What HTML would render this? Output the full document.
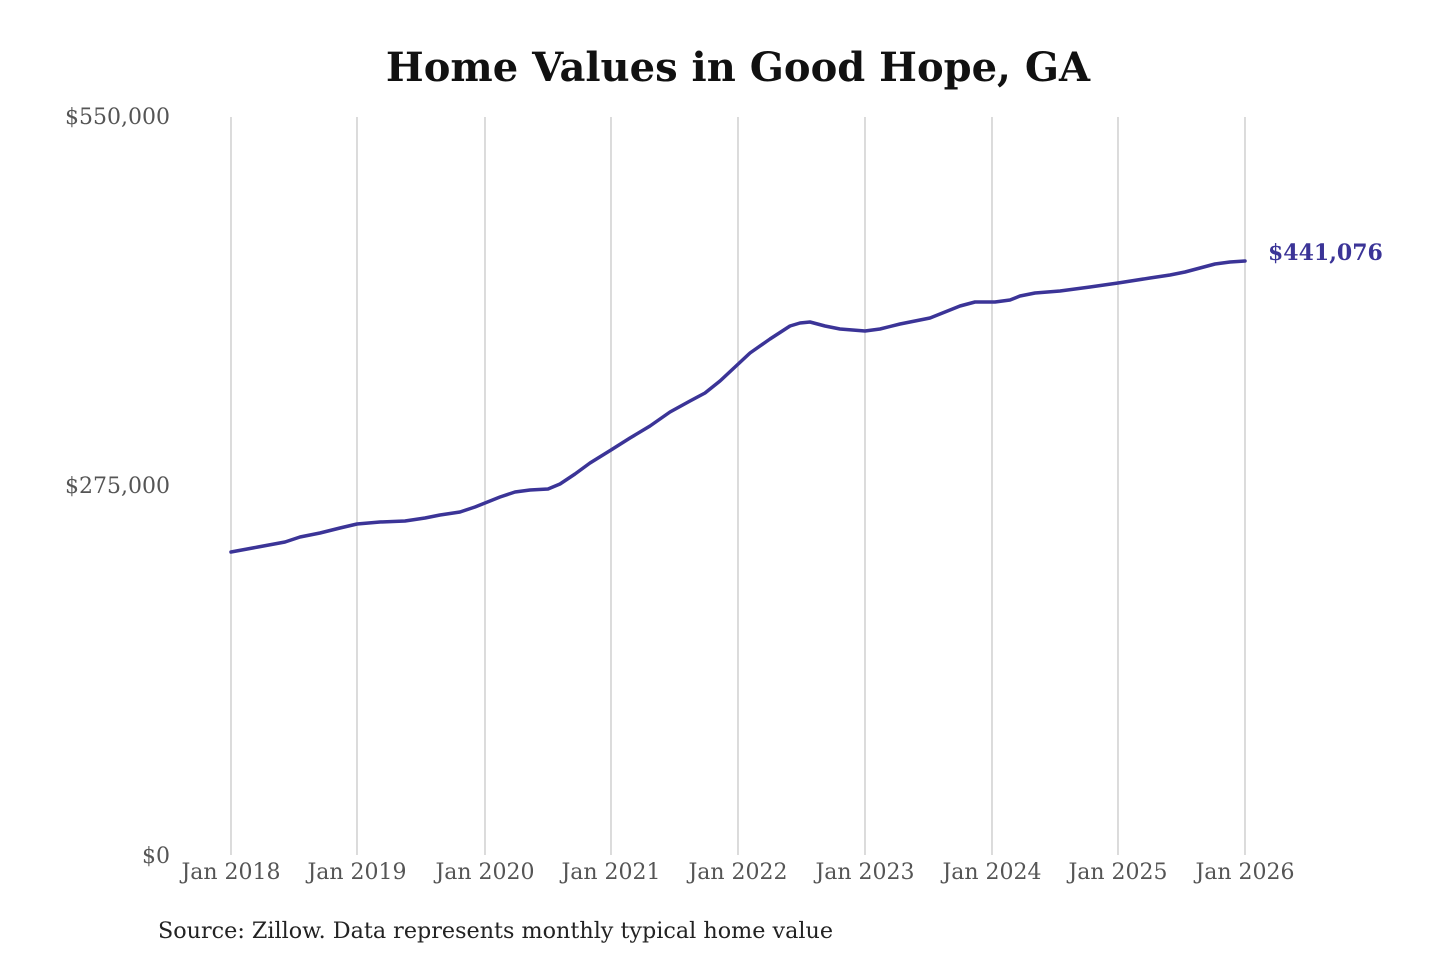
<!DOCTYPE html>
<html><head><meta charset="utf-8"><style>
html,body{margin:0;padding:0;background:#fff;}
svg{display:block;}
</style></head><body>
<svg width="1440" height="960" xmlns="http://www.w3.org/2000/svg" font-family="'DejaVu Serif','Liberation Serif',serif">
<rect width="1440" height="960" fill="#fff"/>
<text x="738" y="81" text-anchor="middle" font-size="40" font-weight="bold" fill="#111">Home Values in Good Hope, GA</text>
<g stroke="#c8c8c8" stroke-width="1.3">
<line x1="231" y1="117" x2="231" y2="855"/><line x1="357" y1="117" x2="357" y2="855"/>
<line x1="485" y1="117" x2="485" y2="855"/><line x1="611" y1="117" x2="611" y2="855"/>
<line x1="738" y1="117" x2="738" y2="855"/><line x1="865" y1="117" x2="865" y2="855"/>
<line x1="992" y1="117" x2="992" y2="855"/><line x1="1118" y1="117" x2="1118" y2="855"/>
<line x1="1245" y1="117" x2="1245" y2="855"/>
</g>
<g font-size="22" fill="#555" text-anchor="end">
<text x="170" y="124">$550,000</text>
<text x="170" y="493">$275,000</text>
<text x="170" y="863">$0</text>
</g>
<g font-size="22" fill="#555" text-anchor="middle">
<text x="231" y="879">Jan 2018</text><text x="357" y="879">Jan 2019</text>
<text x="485" y="879">Jan 2020</text><text x="611" y="879">Jan 2021</text>
<text x="738" y="879">Jan 2022</text><text x="865" y="879">Jan 2023</text>
<text x="992" y="879">Jan 2024</text><text x="1118" y="879">Jan 2025</text>
<text x="1245" y="879">Jan 2026</text>
</g>
<path fill="none" stroke="#3b3497" stroke-width="3.5" stroke-linejoin="round" stroke-linecap="round"
d="M231,552 L258,547 L285,542 L300,537 L320,533 L340,528 L357,524 L380,522 L405,521 L425,518 L440,515 L460,512 L475,507 L485,503 L500,497 L515,492 L530,490 L548,489 L560,484 L575,474 L590,463 L611,450 L630,438 L650,426 L670,412 L690,401 L705,393 L720,381 L735,367 L750,353 L770,339 L790,326 L800,323 L810,322 L825,326 L840,329 L865,331 L880,329 L900,324 L930,318 L945,312 L960,306 L975,302 L995,302 L1010,300 L1020,296 L1035,293 L1060,291 L1090,287 L1118,283 L1150,278 L1170,275 L1185,272 L1200,268 L1215,264 L1230,262 L1245,261"/>
<text x="1268" y="260" font-size="22" font-weight="bold" fill="#3b3497">$441,076</text>
<text x="158" y="938" font-size="22" fill="#222" textLength="675" lengthAdjust="spacingAndGlyphs">Source: Zillow. Data represents monthly typical home value</text>
</svg>
</body></html>
